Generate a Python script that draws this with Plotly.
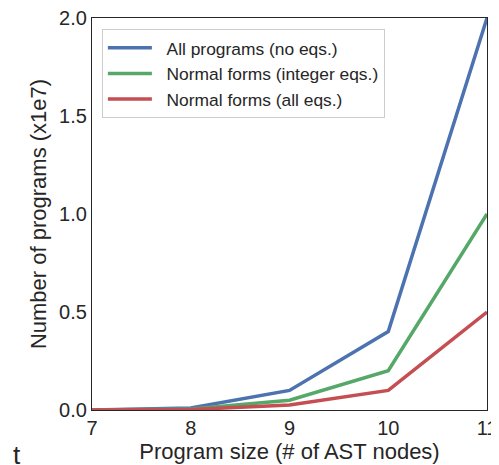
import plotly.graph_objects as go

sizes = [7, 8, 9, 10, 11]
all_programs = [0.0, 0.01, 0.1, 0.4, 2.0]
normal_int = [0.0, 0.005, 0.05, 0.2, 1.0]
normal_all = [0.0, 0.0025, 0.025, 0.1, 0.5]
names = ["All programs (no eqs.)", "Normal forms (integer eqs.)", "Normal forms (all eqs.)"]
colors = ["#4C72B0", "#55A868", "#C44E52"]

fig = go.Figure()
for ys, n, c in zip([all_programs, normal_int, normal_all], names, colors):
    fig.add_trace(go.Scatter(x=sizes, y=ys, mode="lines", name="\u00a0\u00a0" + n,
                             line=dict(color=c, width=3.5), cliponaxis=True))

font = "Liberation Sans, Arial, sans-serif"
fig.update_layout(
    width=491, height=457,
    margin=dict(l=84, r=12, t=10, b=55, autoexpand=False),
    paper_bgcolor="white", plot_bgcolor="white",
    font=dict(family=font, size=18, color="#262626"),
    showlegend=True,
    legend=dict(x=0.025, y=0.972, xanchor="left", yanchor="top",
                bordercolor="#cccccc", borderwidth=1, bgcolor="white",
                font=dict(size=17.4), tracegroupgap=0, itemwidth=44),
    xaxis=dict(range=[7, 11], tickvals=sizes, ticktext=[str(s) for s in sizes],
               showgrid=False, zeroline=False, showline=True, linecolor="#262626",
               linewidth=1.2, mirror=True, ticks="", tickfont=dict(size=20), automargin=False,
               ticklabeloverflow="allow",
               title=dict(text="Program size (# of AST nodes)", font=dict(size=22), standoff=2)),
    yaxis=dict(range=[0, 2.0], tickvals=[0, 0.5, 1.0, 1.5, 2.0],
               ticktext=["0.0", "0.5", "1.0", "1.5", "2.0"],
               showgrid=False, zeroline=False, showline=True, linecolor="#262626",
               linewidth=1.2, mirror=True, ticks="", tickfont=dict(size=20), automargin=False,
               ticklabeloverflow="allow",
               title=dict(text="Number of programs (x1e7)", font=dict(size=22), standoff=6)),
)
fig.add_annotation(text="t", xref="paper", yref="paper", x=-0.205, y=-0.072,
                   xanchor="left", yanchor="top", showarrow=False,
                   font=dict(size=26, family=font, color="#262626"))
fig.write_html("out.html")
